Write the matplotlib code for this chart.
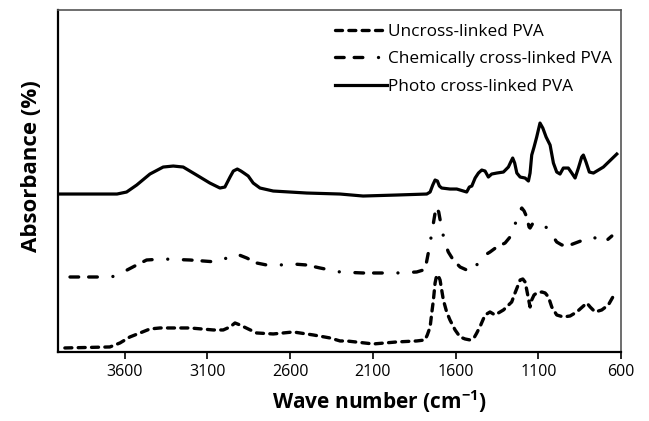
import matplotlib
matplotlib.use("Agg")
import matplotlib.pyplot as plt

plt.rcParams['font.family'] = ['Open Sans', 'DejaVu Sans']

# Uncross-linked PVA (dashed)
wn_uncross = [3961, 3689, 3628, 3568, 3507, 3447, 3386, 3205, 3064, 3004, 2963, 2933,
              2903, 2853, 2802, 2702, 2581, 2460, 2359, 2298, 2258, 2097, 1956, 1835,
              1785, 1771, 1754, 1744, 1734, 1724, 1714, 1704, 1694, 1684, 1674, 1654,
              1634, 1603, 1573, 1543, 1513, 1489, 1472, 1448, 1422, 1392, 1362, 1311,
              1261, 1241, 1210, 1194, 1180, 1170, 1156, 1150, 1140, 1126, 1110, 1079,
              1059, 1039, 1019, 989, 949, 908, 868, 807, 787, 757, 717, 677, 636]
abs_uncross = [0.04, 0.05, 0.09, 0.15, 0.19, 0.23, 0.24, 0.24, 0.22, 0.22, 0.25, 0.29,
               0.27, 0.23, 0.19, 0.18, 0.20, 0.17, 0.14, 0.11, 0.11, 0.08, 0.10, 0.11,
               0.12, 0.17, 0.25, 0.39, 0.52, 0.69, 0.77, 0.76, 0.72, 0.62, 0.52, 0.40,
               0.32, 0.22, 0.15, 0.13, 0.12, 0.14, 0.19, 0.27, 0.37, 0.40, 0.37, 0.42,
               0.50, 0.59, 0.72, 0.73, 0.70, 0.62, 0.50, 0.45, 0.52, 0.57, 0.59, 0.60,
               0.59, 0.55, 0.45, 0.37, 0.35, 0.36, 0.40, 0.49, 0.45, 0.40, 0.42, 0.47, 0.59]

# Chemically cross-linked PVA (dash-dot)
wn_chem = [3930, 3678, 3608, 3527, 3467, 3367, 3205, 3044, 2983, 2923, 2862, 2802,
           2742, 2661, 2581, 2500, 2419, 2298, 2159, 1956, 1835, 1795, 1779, 1765,
           1754, 1744, 1734, 1724, 1714, 1702, 1690, 1678, 1664, 1644, 1614, 1573,
           1533, 1502, 1482, 1462, 1432, 1392, 1351, 1301, 1271, 1251, 1230, 1215,
           1200, 1186, 1170, 1156, 1150, 1136, 1110, 1070, 1039, 1009, 989, 958,
           908, 828, 767, 737, 707, 677, 656]
abs_chem = [0.75, 0.75, 0.80, 0.87, 0.92, 0.93, 0.92, 0.90, 0.94, 0.98, 0.94, 0.89,
            0.87, 0.87, 0.88, 0.87, 0.84, 0.80, 0.79, 0.79, 0.80, 0.82, 0.87, 0.99,
            1.09, 1.19, 1.29, 1.39, 1.44, 1.40, 1.29, 1.19, 1.09, 1.00, 0.92, 0.85,
            0.82, 0.80, 0.84, 0.90, 0.96, 1.00, 1.05, 1.09, 1.15, 1.24, 1.32, 1.40,
            1.44, 1.41, 1.35, 1.25, 1.24, 1.28, 1.29, 1.28, 1.22, 1.15, 1.10, 1.07,
            1.07, 1.12, 1.15, 1.12, 1.09, 1.13, 1.16]

# Photo cross-linked PVA (solid)
wn_photo = [3991, 3646, 3588, 3527, 3447, 3367, 3306, 3246, 3165, 3085, 3024, 2994,
            2963, 2943, 2919, 2897, 2879, 2853, 2823, 2782, 2702, 2500, 2298, 2159,
            1956, 1774, 1754, 1738, 1724, 1710, 1698, 1684, 1634, 1593, 1553, 1533,
            1517, 1502, 1482, 1462, 1442, 1422, 1402, 1382, 1351, 1311, 1281, 1267,
            1255, 1243, 1230, 1210, 1180, 1160, 1150, 1140, 1126, 1110, 1090, 1073,
            1053, 1029, 1009, 989, 969, 949, 919, 898, 878, 858, 838, 828, 812, 792,
            767, 707, 626]
abs_photo = [1.58, 1.58, 1.60, 1.67, 1.78, 1.85, 1.86, 1.85, 1.77, 1.69, 1.64, 1.65,
             1.75, 1.81, 1.83, 1.81, 1.79, 1.76, 1.69, 1.64, 1.61, 1.59, 1.58, 1.56,
             1.57, 1.58, 1.60, 1.67, 1.72, 1.71, 1.66, 1.64, 1.63, 1.63, 1.61, 1.60,
             1.65, 1.66, 1.74, 1.79, 1.82, 1.81, 1.75, 1.78, 1.79, 1.80, 1.85, 1.90,
             1.94, 1.89, 1.79, 1.75, 1.74, 1.71, 1.79, 1.97, 2.05, 2.15, 2.29, 2.24,
             2.15, 2.07, 1.89, 1.80, 1.78, 1.84, 1.84, 1.79, 1.74, 1.84, 1.95, 1.97,
             1.90, 1.80, 1.79, 1.85, 1.98]

xticks = [3600, 3100, 2600, 2100, 1600, 1100, 600]

fig = plt.figure(figsize=(6.49, 4.21), dpi=100)
ax = fig.add_axes([0.090, 0.164, 0.867, 0.812])

ax.plot(wn_uncross, abs_uncross, color='black', lw=2.4, dashes=(2.1, 1.9),
        dash_capstyle='round', label='Uncross-linked PVA')
ax.plot(wn_chem, abs_chem, color='black', lw=2.4, dashes=(2.6, 3.0, 2.6, 4.7, 0.01, 4.7),
        dash_capstyle='round', label='Chemically cross-linked PVA')
ax.plot(wn_photo, abs_photo, color='black', lw=2.3, label='Photo cross-linked PVA')

ax.set_xlim(4000, 600)
ax.set_ylim(0, 3.42)
ax.set_xticks(xticks)
ax.set_yticks([])
ax.tick_params(axis='x', direction='out', length=5, width=1.2, labelsize=11.5, pad=4)

for side in ['left', 'bottom']:
    ax.spines[side].set_linewidth(1.6)
    ax.spines[side].set_color('black')
for side in ['top', 'right']:
    ax.spines[side].set_linewidth(1.2)
    ax.spines[side].set_color('#555555')

ax.set_xlabel('Wave number (cm$^{\\mathregular{-1}}$)', fontsize=15, fontweight='bold')
ax.xaxis.set_label_coords(0.57, -0.105)
ax.set_ylabel('Absorbance (%)', fontsize=16, fontweight='bold')
ax.yaxis.set_label_coords(-0.03, 0.544)

ax.legend(loc='upper left', bbox_to_anchor=(0.4916, 0.959), frameon=False,
          fontsize=12.4, handlelength=3.0, handletextpad=0.1, borderpad=0,
          borderaxespad=0, labelspacing=0.65)

fig.savefig('out.png', dpi=100)
